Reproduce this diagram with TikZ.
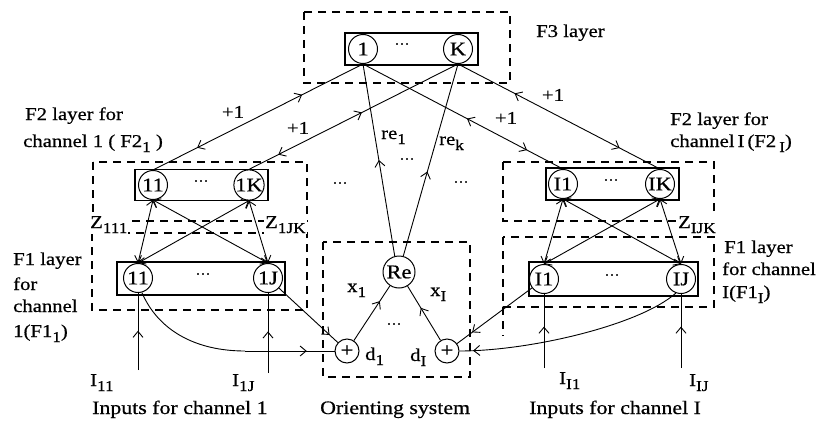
\documentclass[tikz,border=0pt]{standalone}
\usepackage{fontspec}
\setmainfont[FakeStretch=1.15,FakeBold=0.6]{Liberation Serif}
\usetikzlibrary{arrows.meta,decorations.markings}

% lowered, smaller index text
\newcommand\sub[1]{\raisebox{-5pt}{\fontsize{15}{15}\selectfont #1}}

\begin{document}
\begin{tikzpicture}[x=1pt,y=-1pt,
  >={Straight Barb[length=6pt,width=10pt]},
  every node/.style={font=\fontsize{18}{22}\selectfont},
  lbl/.style={anchor=base west,inner sep=0pt},
  unit/.style={draw,circle,inner sep=0pt,minimum size=29pt,line width=1pt,
    font=\fontsize{19.5}{20}\selectfont},
  layerbox/.style={draw,line width=1.6pt,inner sep=0pt},
  zone/.style={dash pattern=on 8pt off 6pt,line width=1.1pt},
  link/.style={line width=0.9pt},
  gap/.style={font=\fontsize{13}{13}\selectfont,inner sep=0pt},
  tipat/.style={postaction={decorate,decoration={markings,
      mark=at position #1 with {\arrow{>}}}}},
  tipback/.style={postaction={decorate,decoration={markings,
      mark=at position #1 with {\arrowreversed{>}}}}},
  wlbl/.style={anchor=base west,fill=white,inner sep=1pt}]

\useasboundingbox (0,0) rectangle (816,423);

% ---------- dashed layer zones ----------
\draw[zone] (304,12) rectangle (510,83);
\draw[zone] (93,162) rectangle (307,221);
\draw[zone] (92,233) rectangle (307,310);
\draw[zone] (503,162) rectangle (714,221);
\draw[zone] (503,237) rectangle (714,307);
\draw[zone] (503,307) -- (503,336);
\draw[zone] (323,242) rectangle (470,377);

% ---------- F3 layer ----------
\node[layerbox,minimum width=133pt,minimum height=32pt] (f3box) at (411.5,49) {};
\node[unit] (f3a) at (363,49) {1};
\node[unit] (f3b) at (458,49) {K};
\node[gap] (f3dots) at (402,44) {\dots};

% ---------- F2 layers ----------
\node[layerbox,minimum width=133pt,minimum height=31pt] (l2box) at (201.5,185) {};
\node[unit] (l2a) at (153,185) {11};
\node[unit] (l2b) at (249,185) {1K};
\node[gap] (l2dots) at (201,181) {\dots};

\node[layerbox,minimum width=133pt,minimum height=32pt] (r2box) at (612.5,184) {};
\node[unit] (r2a) at (563,184) {I1};
\node[unit] (r2b) at (660,184) {IK};
\node[gap] (r2dots) at (611,180) {\dots};

% ---------- F1 layers ----------
\node[layerbox,minimum width=168pt,minimum height=33pt] (l1box) at (201,278.5) {};
\node[unit] (l1a) at (138,278) {11};
\node[unit] (l1b) at (268,278) {1J};
\node[gap] (l1dots) at (203,274) {\dots};

\node[layerbox,minimum width=169pt,minimum height=34pt] (r1box) at (613.5,279) {};
\node[unit] (r1a) at (544,279) {I1};
\node[unit] (r1b) at (681,279) {IJ};
\node[gap] (r1dots) at (612,275) {\dots};

% ---------- orienting system ----------
\node[unit,minimum size=32pt] (re) at (399,272) {Re};
\node[unit,minimum size=24pt] (pl1) at (347,351) {+};
\node[unit,minimum size=24pt] (pl2) at (447,351) {+};
\node[gap] (odots) at (394,324) {\dots};

% ---------- free ends ----------
\coordinate (in11) at (138,370);
\coordinate (in1J) at (268,373);
\coordinate (inI1) at (544,368);
\coordinate (inIJ) at (681,368);
\coordinate (bend1) at (245,351);

% ---------- F3 <-> F2 (+1) ----------
\draw[link,tipback=0.29,tipat=0.79] (f3a.south) -- (l2a.north);
\draw[link,tipback=0.46,tipat=0.86] (f3b.south) -- (l2b.north);
\draw[link,tipback=0.52,tipat=0.82] (f3a.south) -- (r2a.north);
\draw[link,tipback=0.28,tipat=0.80] (f3b.south) -- (r2b.north);

% ---------- reset signals ----------
\draw[link,tipat=0.5] (re.105) -- (f3a.south);
\draw[link,tipat=0.44] (re.75) -- (f3b.south);

% ---------- F2 <-> F1 ----------
\draw[link,<->] (l2a.south) -- (l1a.north);
\draw[link,<->] (l2a.south) -- (l1b.north);
\draw[link,<->] (l2b.south) -- (l1a.north);
\draw[link,<->] (l2b.south) -- (l1b.north);
\draw[link,<->] (r2a.south) -- (r1a.north);
\draw[link,<->] (r2a.south) -- (r1b.north);
\draw[link,<->] (r2b.south) -- (r1a.north);
\draw[link,<->] (r2b.south) -- (r1b.north);

% ---------- inputs ----------
\draw[link,tipat=0.51] (in11) -- (l1a.south);
\draw[link,tipat=0.52] (in1J) -- (l1b.south);
\draw[link,tipat=0.56] (inI1) -- (r1a.south);
\draw[link,tipat=0.56] (inIJ) -- (r1b.south);

% ---------- into the orienting system ----------
\draw[link] (l1a.-75) .. controls (158,330) and (195,351) .. (bend1);
\draw[link,tipat=0.69] (bend1) -- (pl1);
\draw[link,tipat=0.86] (l1b) -- (pl1);
\draw[link,tipat=0.8] (r1a) -- (pl2);
\draw[link,tipat=0.94] (r1b.-110) .. controls (640,325) and (530,351) .. (pl2);
\draw[link,tipat=0.72] (pl1) -- (re);
\draw[link,tipat=0.6] (pl2) -- (re);

% ---------- labels ----------
\node[lbl] (tf3) at (536,37) {F3 layer};
\node[lbl] (tf2l1) at (25,120) {F2 layer for};
\node[lbl] (tf2l2) at (23,147) {channel 1 ( F2\sub{1} )};
\node[lbl] (tf2r1) at (670,125) {F2 layer for};
\node[lbl] (tf2r2) at (670,147) {channel\,I\,(F2\,\sub{I})};
\node[lbl] (tf1l1) at (13,265) {F1 layer};
\node[lbl] (tf1l2) at (13,290) {for};
\node[lbl] (tf1l3) at (13,312) {channel};
\node[lbl] (tf1l4) at (13,337) {1(F1\sub{1})};
\node[lbl] (tf1r1) at (724,253) {F1 layer};
\node[lbl] (tf1r2) at (722,275) {for channel};
\node[lbl] (tf1r3) at (722,298) {I(F1\sub{I})};

\node[anchor=center] (p1) at (233,112) {+1};
\node[anchor=center] (p2) at (298,128) {+1};
\node[anchor=center] (p3) at (506,118) {+1};
\node[anchor=center] (p4) at (553,95) {+1};

\node[lbl] (tre1) at (381,139) {re\sub{1}};
\node[lbl] (trek) at (439,145) {re\sub{k}};
\node[gap] (md1) at (340,183) {\dots};
\node[gap] (md2) at (407,159) {\dots};
\node[gap] (md3) at (461,182) {\dots};

\node[wlbl] (z1) at (89,228) {Z\sub{111}};
\node[wlbl] (z2) at (264,228) {Z\sub{1JK}};
\node[wlbl] (z3) at (677,228) {Z\sub{IJK}};

\node[lbl] (tx1) at (347,292) {x\sub{1}};
\node[lbl] (txI) at (430,296) {x\sub{I}};
\node[lbl] (td1) at (365,360) {d\sub{1}};
\node[lbl] (tdI) at (410,361) {d\sub{I}};

\node[lbl] (ti11) at (90,386) {I\sub{11}};
\node[lbl] (ti1J) at (232,386) {I\sub{1J}};
\node[lbl] (tiI1) at (559,384) {I\sub{I1}};
\node[lbl] (tiIJ) at (689,386) {I\sub{IJ}};

\node[lbl,font=\fontsize{19}{22}\selectfont] (b1) at (92,414) {Inputs for channel 1};
\node[lbl,font=\fontsize{19}{22}\selectfont] (b2) at (320,414) {Orienting system};
\node[lbl,font=\fontsize{19}{22}\selectfont] (b3) at (529,414) {Inputs for channel I};
\end{tikzpicture}
\end{document}
